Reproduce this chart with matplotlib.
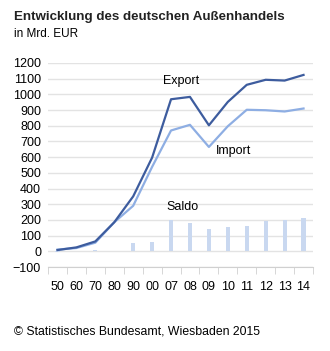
import numpy as np
import matplotlib.pyplot as plt

jahre = ["50", "60", "70", "80", "90", "00", "07", "08", "09", "10", "11", "12", "13", "14"]
export = [8, 25, 63, 185, 350, 597, 969, 984, 803, 952, 1061, 1093, 1088, 1124]
importe = [11, 21, 55, 185, 290, 538, 770, 806, 665, 797, 902, 899, 891, 910]
saldo = [-3, 5, 8, 4, 55, 59, 199, 178, 139, 155, 159, 194, 197, 214]

plt.rcParams['font.family'] = ['Liberation Sans', 'DejaVu Sans']

fig = plt.figure(figsize=(3.3, 3.51), dpi=100)
ax = fig.add_axes([48 / 330, 1 - 267 / 351, 265 / 330, 204 / 351])

x = np.arange(len(jahre))
ax.bar(x, saldo, width=0.22, color="#c9d8f0", zorder=2)
ax.plot(x, importe, color="#8eaee3", lw=1.6, zorder=3)
ax.plot(x, export, color="#3d5c9e", lw=1.6, zorder=4)

ax.set_xlim(-0.5, len(jahre) - 0.5)
ax.set_ylim(-100, 1200)
ax.set_yticks(np.arange(-100, 1201, 100))
ax.yaxis.grid(True, color="#e3e3e3", lw=1)
ax.set_axisbelow(True)
ax.tick_params(axis="y", length=0, labelsize=9, pad=5)

ax.set_xticks(x)
ax.set_xticklabels(jahre)
ax.set_xticks(np.arange(-0.5, len(jahre)), minor=True)
ax.tick_params(axis="x", which="major", length=0, labelsize=9, pad=10)
ax.tick_params(axis="x", which="minor", length=5, color="#d0d0d0")

for s in ["top", "right", "left"]:
    ax.spines[s].set_visible(False)
ax.spines["bottom"].set_color("#d0d0d0")

ax.text(6.55, 1050, "Export", fontsize=9, ha="center", va="bottom")
ax.text(9.3, 680, "Import", fontsize=9, ha="center", va="top")
ax.text(6.6, 285, "Saldo", fontsize=9, ha="center", va="center")

fig.text(14 / 330, 1 - 17 / 351, "Entwicklung des deutschen Außenhandels",
         fontsize=9.6, fontweight="bold", color="#222222", va="center")
fig.text(14 / 330, 1 - 34 / 351, "in Mrd. EUR", fontsize=8.5, va="center")
fig.text(14 / 330, 1 - 332 / 351, "© Statistisches Bundesamt, Wiesbaden 2015",
         fontsize=8.8, va="center")

fig.savefig("out.png", dpi=100)
